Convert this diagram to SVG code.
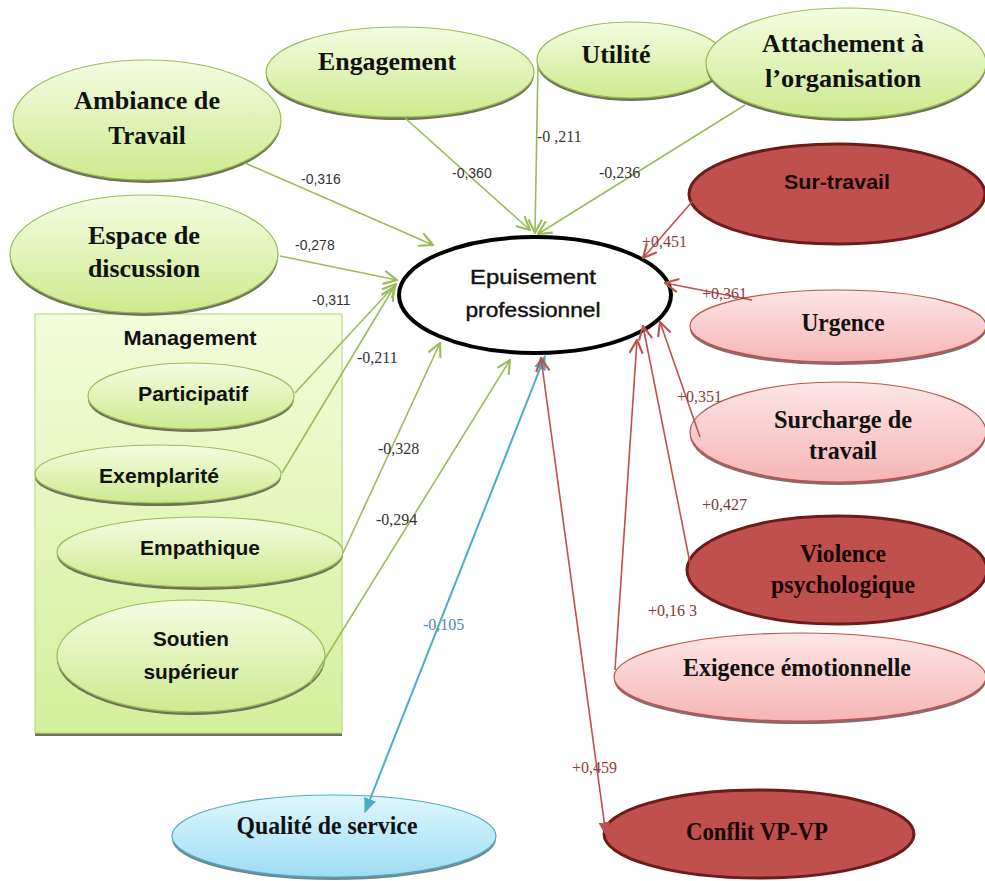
<svg xmlns="http://www.w3.org/2000/svg" width="985" height="881" viewBox="0 0 985 881">
<defs>
<linearGradient id="gGreen" x1="0" y1="0" x2="0" y2="1"><stop offset="0" stop-color="#f4fce2"/><stop offset="1" stop-color="#cdea8e"/></linearGradient>
<linearGradient id="gRect" x1="0" y1="0" x2="0" y2="1"><stop offset="0" stop-color="#f3fcda"/><stop offset="1" stop-color="#d3f09c"/></linearGradient>
<linearGradient id="gPink" x1="0" y1="0" x2="0" y2="1"><stop offset="0" stop-color="#fde6e6"/><stop offset="1" stop-color="#f6b5b5"/></linearGradient>
<linearGradient id="gBlue" x1="0" y1="0" x2="0" y2="1"><stop offset="0" stop-color="#dff7fe"/><stop offset="1" stop-color="#9edcf3"/></linearGradient>
<marker id="aG" viewBox="0 0 12 12" refX="11" refY="6" markerWidth="16" markerHeight="16" markerUnits="userSpaceOnUse" orient="auto"><path d="M1,1 L11,6 L1,11" fill="none" stroke="#9bbb59" stroke-width="1.6"/></marker>
<marker id="aR" viewBox="0 0 12 12" refX="11" refY="6" markerWidth="16" markerHeight="16" markerUnits="userSpaceOnUse" orient="auto-start-reverse"><path d="M1,1 L11,6 L1,11" fill="none" stroke="#c0504d" stroke-width="1.6"/></marker>
<marker id="aRf" viewBox="0 0 12 12" refX="11" refY="6" markerWidth="14" markerHeight="14" markerUnits="userSpaceOnUse" orient="auto-start-reverse"><path d="M0,1 L12,6 L0,11 z" fill="#c0504d"/></marker>
<marker id="aB" viewBox="0 0 12 12" refX="11" refY="6" markerWidth="15" markerHeight="15" markerUnits="userSpaceOnUse" orient="auto-start-reverse"><path d="M0,1 L12,6 L0,11 z" fill="#4bacc6"/></marker>
</defs>
<style>
.sh{fill:#6e7258;}
.shr{fill:#8a6a6a;}
.gr{fill:url(#gGreen);stroke:#9bbb59;stroke-width:1.2;}
.pk{fill:url(#gPink);stroke:#c0504d;stroke-width:1.2;}
.dr{fill:#c0504d;stroke:#6b1c1a;stroke-width:3;}
.bl{fill:url(#gBlue);stroke:#4bacc6;stroke-width:1.2;}
.ts{font-family:"Liberation Serif","Times New Roman",serif;font-weight:bold;font-size:25px;fill:#111;text-anchor:middle;}
.tc{font-family:"Liberation Sans",Arial,sans-serif;font-weight:bold;font-size:21px;fill:#111;text-anchor:middle;}
.lg{stroke:#9bbb59;stroke-width:1.6;fill:none;}
.lr{stroke:#c0504d;stroke-width:1.6;fill:none;}
.lb{stroke:#4bacc6;stroke-width:2;fill:none;}
.ls{font-family:"Liberation Sans",Arial,sans-serif;font-size:14px;fill:#333;}
.lt{font-family:"Liberation Serif","Times New Roman",serif;font-size:16px;fill:#333;}
.lrd{font-family:"Liberation Serif","Times New Roman",serif;font-size:16px;fill:#8e3b39;}
.lbl{font-family:"Liberation Serif","Times New Roman",serif;font-size:16px;fill:#4f81bd;}
</style>
<rect width="985" height="881" fill="#ffffff"/>

<g id="management">
<rect x="35" y="317" width="307" height="419" fill="#6e7258"/>
<rect x="35" y="314" width="307" height="419" fill="url(#gRect)" stroke="#bcd98a" stroke-width="1.2"/>
<text x="190" y="345" class="tc" textLength="133" lengthAdjust="spacingAndGlyphs">Management</text>
</g>

<g id="participatif">
<ellipse cx="191" cy="399" rx="103" ry="33" class="sh"/>
<ellipse cx="191" cy="396" rx="103" ry="33" class="gr"/>
<text x="193" y="401" class="tc" textLength="110" lengthAdjust="spacingAndGlyphs">Participatif</text>
</g>
<g id="exemplarite">
<ellipse cx="158" cy="477" rx="123" ry="29" class="sh"/>
<ellipse cx="158" cy="474" rx="123" ry="29" class="gr"/>
<text x="159" y="483" class="tc" textLength="120" lengthAdjust="spacingAndGlyphs">Exemplarité</text>
</g>
<g id="empathique">
<ellipse cx="200" cy="555" rx="143" ry="35" class="sh"/>
<ellipse cx="200" cy="552" rx="143" ry="35" class="gr"/>
<text x="200" y="555" class="tc" textLength="120" lengthAdjust="spacingAndGlyphs">Empathique</text>
</g>
<g id="soutien">
<ellipse cx="191" cy="659" rx="134" ry="56" class="sh"/>
<ellipse cx="191" cy="656" rx="134" ry="56" class="gr"/>
<text x="191" y="646" class="tc" textLength="76" lengthAdjust="spacingAndGlyphs">Soutien</text>
<text x="191" y="679" class="tc" textLength="95" lengthAdjust="spacingAndGlyphs">supérieur</text>
</g>

<g id="ambiance">
<ellipse cx="147" cy="123" rx="134" ry="60" class="sh"/>
<ellipse cx="147" cy="120" rx="134" ry="60" class="gr"/>
<text x="147" y="109" class="ts" textLength="146" lengthAdjust="spacingAndGlyphs">Ambiance de</text>
<text x="147" y="144" class="ts">Travail</text>
</g>
<g id="espace">
<ellipse cx="144" cy="257" rx="134" ry="59" class="sh"/>
<ellipse cx="144" cy="254" rx="134" ry="59" class="gr"/>
<text x="144" y="244" class="ts" textLength="112" lengthAdjust="spacingAndGlyphs">Espace de</text>
<text x="144" y="277" class="ts" textLength="112" lengthAdjust="spacingAndGlyphs">discussion</text>
</g>
<g id="engagement">
<ellipse cx="400" cy="75" rx="134" ry="45" class="sh"/>
<ellipse cx="400" cy="72" rx="134" ry="45" class="gr"/>
<text x="387" y="70" class="ts" textLength="138" lengthAdjust="spacingAndGlyphs">Engagement</text>
</g>
<g id="utilite">
<ellipse cx="631" cy="63" rx="94" ry="38" class="sh"/>
<ellipse cx="631" cy="60" rx="94" ry="38" class="gr"/>
<text x="616" y="63" class="ts" textLength="69" lengthAdjust="spacingAndGlyphs">Utilité</text>
</g>
<g id="attachement">
<ellipse cx="846" cy="66" rx="140" ry="55" class="sh"/>
<ellipse cx="846" cy="63" rx="140" ry="55" class="gr"/>
<text x="843" y="52" class="ts" textLength="162" lengthAdjust="spacingAndGlyphs">Attachement à</text>
<text x="843" y="87" class="ts" textLength="156" lengthAdjust="spacingAndGlyphs">l’organisation</text>
</g>

<g id="epuisement">
<ellipse cx="535" cy="295" rx="136" ry="58" fill="#ffffff" stroke="#000000" stroke-width="4"/>
<text x="533" y="284" class="tc" style="font-weight:normal;font-size:21px;stroke:#111;stroke-width:0.4" textLength="126" lengthAdjust="spacingAndGlyphs">Epuisement</text>
<text x="533" y="317" class="tc" style="font-weight:normal;font-size:21px;stroke:#111;stroke-width:0.4" textLength="135" lengthAdjust="spacingAndGlyphs">professionnel</text>
</g>

<g id="surtravail">
<ellipse cx="837" cy="194" rx="148" ry="50" class="dr"/>
<text x="837" y="189" class="tc" style="fill:#1a0505" textLength="106" lengthAdjust="spacingAndGlyphs">Sur-travail</text>
</g>
<g id="urgence">
<ellipse cx="838" cy="329" rx="148" ry="36" class="shr"/>
<ellipse cx="838" cy="326" rx="148" ry="36" class="pk"/>
<text x="843" y="331" class="ts" textLength="83" lengthAdjust="spacingAndGlyphs">Urgence</text>
</g>
<g id="surcharge">
<ellipse cx="838" cy="435" rx="148" ry="50" class="shr"/>
<ellipse cx="838" cy="432" rx="148" ry="50" class="pk"/>
<text x="843" y="428" class="ts" textLength="138" lengthAdjust="spacingAndGlyphs">Surcharge de</text>
<text x="843" y="459" class="ts" textLength="68" lengthAdjust="spacingAndGlyphs">travail</text>
</g>
<g id="violence">
<ellipse cx="837" cy="570" rx="150" ry="54" class="dr"/>
<text x="843" y="562" class="ts" style="fill:#1a0505" textLength="86" lengthAdjust="spacingAndGlyphs">Violence</text>
<text x="843" y="593" class="ts" style="fill:#1a0505" textLength="144" lengthAdjust="spacingAndGlyphs">psychologique</text>
</g>
<g id="exigence">
<ellipse cx="800" cy="680" rx="186" ry="44" class="shr"/>
<ellipse cx="800" cy="677" rx="186" ry="44" class="pk"/>
<text x="797" y="676" class="ts" textLength="228" lengthAdjust="spacingAndGlyphs">Exigence émotionnelle</text>
</g>
<g id="qualite">
<ellipse cx="334" cy="839" rx="162" ry="41" style="fill:#6e8a90"/>
<ellipse cx="334" cy="836" rx="162" ry="41" class="bl"/>
<text x="327" y="834" class="ts" textLength="181" lengthAdjust="spacingAndGlyphs">Qualité de service</text>
</g>
<g id="conflit">
<ellipse cx="759" cy="834" rx="155" ry="44" class="dr"/>
<text x="757" y="840" class="ts" style="fill:#1a0505" textLength="142" lengthAdjust="spacingAndGlyphs">Conflit VP-VP</text>
</g>

<g id="connectors">
<line x1="245" y1="163" x2="433" y2="245" class="lg" marker-end="url(#aG)"/>
<line x1="405" y1="118" x2="530" y2="230" class="lg" marker-end="url(#aG)"/>
<line x1="538" y1="65" x2="535" y2="233" class="lg" marker-end="url(#aG)"/>
<line x1="745" y1="105" x2="538" y2="234" class="lg" marker-end="url(#aG)"/>
<line x1="280" y1="256" x2="397" y2="280" class="lg" marker-end="url(#aG)"/>
<line x1="295" y1="393" x2="396" y2="284" class="lg" marker-end="url(#aG)"/>
<line x1="282" y1="473" x2="394" y2="287" class="lg" marker-end="url(#aG)"/>
<line x1="343" y1="553" x2="440" y2="343" class="lg" marker-end="url(#aG)"/>
<line x1="310" y1="683" x2="510" y2="360" class="lg" marker-end="url(#aG)"/>
<line x1="365" y1="812" x2="545" y2="356" class="lb" marker-start="url(#aB)" marker-end="url(#aB)"/>
<line x1="541" y1="358" x2="606" y2="835" class="lr" marker-start="url(#aR)" marker-end="url(#aRf)"/>
<line x1="698" y1="195" x2="643" y2="258" class="lr" marker-end="url(#aR)"/>
<line x1="752" y1="300" x2="665" y2="283" class="lr" marker-end="url(#aR)"/>
<line x1="700" y1="437" x2="660" y2="322" class="lr" marker-end="url(#aR)"/>
<line x1="690" y1="563" x2="643" y2="326" class="lr" marker-end="url(#aR)"/>
<line x1="615" y1="670" x2="637" y2="340" class="lr" marker-end="url(#aR)"/>
<text x="301" y="184" class="ls">-0,316</text>
<text x="452" y="178" class="ls">-0,360</text>
<text x="537" y="142" class="lt">-0 ,211</text>
<text x="599" y="178" class="lt">-0,236</text>
<text x="295" y="250" class="ls">-0,278</text>
<text x="312" y="305" class="ls">-0,311</text>
<text x="357" y="363" class="lt">-0,211</text>
<text x="378" y="454" class="lt">-0,328</text>
<text x="376" y="525" class="lt">-0,294</text>
<text x="423" y="630" class="lbl">-0,105</text>
<text x="642" y="247" class="lrd">+0,451</text>
<text x="702" y="299" class="lrd">+0,361</text>
<text x="677" y="402" class="lrd">+0,351</text>
<text x="702" y="510" class="lrd" style="fill:#7a3a38">+0,427</text>
<text x="648" y="616" class="lrd" style="fill:#7a3a38">+0,16 3</text>
<text x="572" y="773" class="lrd">+0,459</text>
</g>
</svg>
